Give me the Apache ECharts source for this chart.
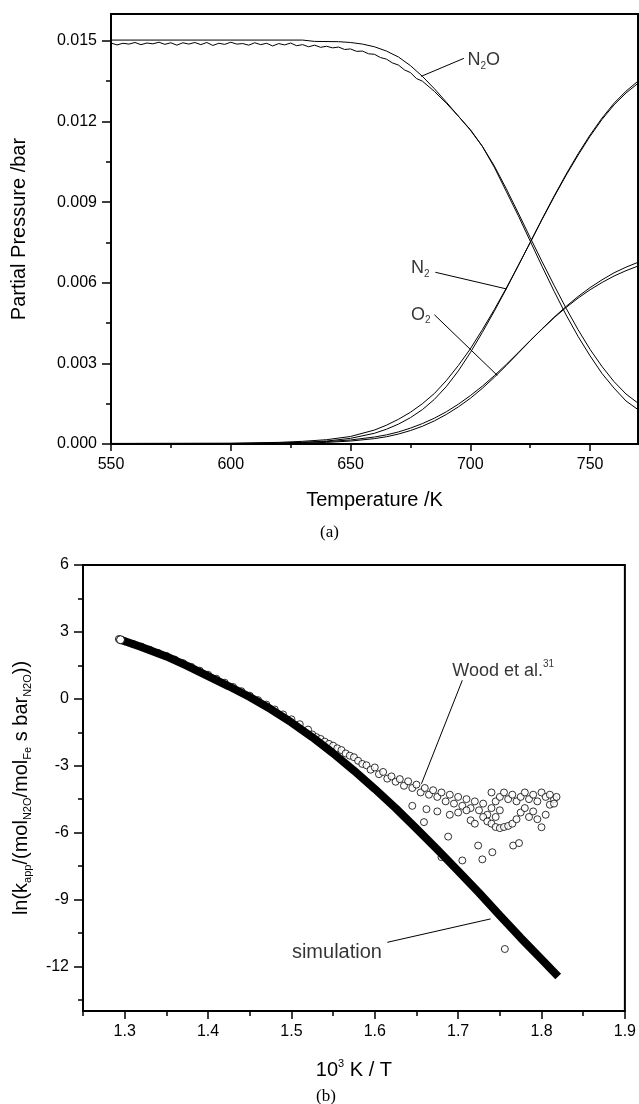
<!DOCTYPE html>
<html><head><meta charset="utf-8">
<script src="https://cdn.jsdelivr.net/npm/echarts@6/dist/echarts.min.js"></script>
<style>html,body{margin:0;padding:0;background:#fff}#c{width:639px;height:1104px}</style>
</head><body><div id="c"></div>
<script>
// ---------- Panel (a): partial pressures vs temperature ----------
const tempTicks = [550, 600, 650, 700, 750];
const tempMinorTicks = [575, 625, 675, 725];
const ppTicks = [0, 0.003, 0.006, 0.009, 0.012, 0.015];
const ppMinorTicks = [0.0015, 0.0045, 0.0075, 0.0105, 0.0135];

const n2oExp = [[550,0.01492],[552.5,0.01485],[555,0.01491],[557.5,0.01488],[560,0.01494],[562.5,0.01486],[565,0.01492],[567.5,0.01489],[570,0.01495],[572.5,0.01487],[575,0.01493],[577.5,0.01484],[580,0.01493],[582.5,0.01488],[585,0.01494],[587.5,0.01486],[590,0.01494],[592.5,0.01483],[595,0.01491],[597.5,0.01487],[600,0.01495],[602.5,0.01488],[605,0.01490],[607.5,0.01484],[610,0.01493],[612.5,0.01486],[615,0.01491],[617.5,0.01481],[620,0.01490],[622.5,0.01485],[625,0.01492],[627.5,0.01482],[630,0.01486],[632.5,0.01478],[635,0.01484],[637.5,0.01476],[640,0.01480],[642.5,0.01474],[645,0.01477],[647.5,0.01468],[650,0.01470],[652.5,0.01461],[655,0.01462],[657.5,0.01452],[660,0.01450],[662.5,0.01438],[665,0.01432],[667.5,0.01418],[670,0.01410],[672.5,0.01392],[675,0.01382],[677.5,0.01360],[680,0.01350],[685,0.01312],[690,0.01268],[695,0.01220],[700,0.01170],[705,0.01108],[710,0.01030],[715,0.00940],[720,0.00850],[725,0.00755],[730,0.00660],[735,0.00568],[740,0.00480],[745,0.00400],[750,0.00328],[755,0.00262],[760,0.00208],[765,0.00160],[770,0.00128]];
const n2oSim = [[550,0.01503],[600,0.01503],[630,0.01503],[635,0.01498],[645,0.01497],[650,0.01494],[655,0.01488],[660,0.01478],[665,0.01462],[670,0.01440],[675,0.01408],[680,0.01368],[685,0.01322],[690,0.01272],[695,0.01220],[700,0.01168],[705,0.01108],[710,0.01035],[715,0.00950],[720,0.00860],[725,0.00768],[730,0.00678],[735,0.00590],[740,0.00505],[745,0.00425],[750,0.00352],[755,0.00288],[760,0.00232],[765,0.00186],[770,0.00152]];
const n2Exp = [[550,0.00002],[600,0.00003],[620,0.00006],[630,0.00010],[640,0.00016],[650,0.00028],[660,0.00052],[665,0.00070],[670,0.00092],[675,0.00118],[680,0.00150],[685,0.00188],[690,0.00236],[695,0.00292],[700,0.00354],[705,0.00425],[710,0.00500],[715,0.00580],[720,0.00664],[725,0.00750],[730,0.00836],[735,0.00920],[740,0.01000],[745,0.01075],[750,0.01145],[755,0.01208],[760,0.01262],[765,0.01306],[770,0.01342]];
const n2Sim = [[550,0],[600,0.00001],[620,0.00003],[630,0.00006],[640,0.00011],[650,0.00021],[660,0.00040],[665,0.00055],[670,0.00074],[675,0.00098],[680,0.00128],[685,0.00166],[690,0.00214],[695,0.00272],[700,0.00340],[705,0.00415],[710,0.00494],[715,0.00577],[720,0.00663],[725,0.00750],[730,0.00838],[735,0.00923],[740,0.01004],[745,0.01080],[750,0.01150],[755,0.01213],[760,0.01268],[765,0.01313],[770,0.01350]];
const o2Exp = [[550,0.00002],[600,0.00002],[620,0.00004],[630,0.00006],[640,0.00009],[650,0.00015],[660,0.00026],[665,0.00034],[670,0.00045],[675,0.00059],[680,0.00076],[685,0.00096],[690,0.00120],[695,0.00148],[700,0.00180],[705,0.00215],[710,0.00254],[715,0.00296],[720,0.00340],[725,0.00385],[730,0.00428],[735,0.00470],[740,0.00508],[745,0.00543],[750,0.00574],[755,0.00601],[760,0.00625],[765,0.00645],[770,0.00662]];
const o2Sim = [[550,0],[600,0.00001],[620,0.00002],[630,0.00003],[640,0.00006],[650,0.00011],[660,0.00020],[665,0.00027],[670,0.00037],[675,0.00050],[680,0.00066],[685,0.00086],[690,0.00110],[695,0.00138],[700,0.00170],[705,0.00207],[710,0.00248],[715,0.00292],[720,0.00338],[725,0.00384],[730,0.00429],[735,0.00472],[740,0.00512],[745,0.00549],[750,0.00582],[755,0.00611],[760,0.00637],[765,0.00658],[770,0.00676]];

const n2oPointer = [[679.5,0.01368],[697.3,0.01435]];
const n2Pointer = [[685.4,0.00639],[715.1,0.00577]];
const o2Pointer = [[685.0,0.00481],[711.3,0.00255]];
const n2oLabelAt = [698.8, 0.01429];
const n2LabelAt = [675.2, 0.00653];
const o2LabelAt = [675.2, 0.00481];

// ---------- Panel (b): Arrhenius plot ----------
const invTTicks = [1.3, 1.4, 1.5, 1.6, 1.7, 1.8, 1.9];
const invTMinorTicks = [1.25, 1.35, 1.45, 1.55, 1.65, 1.75, 1.85];
const lnkTicks = [-12, -9, -6, -3, 0, 3, 6];
const lnkMinorTicks = [-13.5, -10.5, -7.5, -4.5, -1.5, 1.5, 4.5];

const simulation = [[1.295,2.65],[1.32,2.32],[1.35,1.90],[1.375,1.48],[1.40,1.02],[1.425,0.56],[1.45,0.08],[1.475,-0.46],[1.50,-1.06],[1.525,-1.72],[1.55,-2.44],[1.575,-3.22],[1.60,-4.04],[1.625,-4.90],[1.65,-5.82],[1.675,-6.76],[1.70,-7.72],[1.725,-8.70],[1.75,-9.72],[1.775,-10.72],[1.80,-11.68],[1.82,-12.45]];
const wood = [[1.293,2.68],[1.30,2.58],[1.31,2.46],[1.32,2.34],[1.33,2.20],[1.34,2.06],[1.35,1.92],[1.36,1.76],[1.37,1.60],[1.38,1.43],[1.39,1.26],[1.40,1.08],[1.41,0.90],[1.42,0.72],[1.43,0.53],[1.44,0.34],[1.45,0.14],[1.46,-0.06],[1.47,-0.26],[1.48,-0.48],[1.49,-0.70],[1.50,-0.92],[1.51,-1.14],[1.52,-1.38],[1.525,-1.60],[1.53,-1.72],[1.535,-1.80],[1.54,-1.92],[1.545,-2.02],[1.55,-2.10],[1.555,-2.22],[1.56,-2.30],[1.565,-2.45],[1.57,-2.55],[1.575,-2.62],[1.58,-2.78],[1.585,-2.92],[1.59,-2.98],[1.595,-3.18],[1.60,-3.08],[1.605,-3.38],[1.61,-3.28],[1.615,-3.58],[1.62,-3.48],[1.625,-3.72],[1.63,-3.60],[1.635,-3.90],[1.64,-3.70],[1.645,-4.00],[1.65,-3.85],[1.655,-4.20],[1.66,-4.00],[1.665,-4.30],[1.67,-4.10],[1.675,-4.40],[1.68,-4.20],[1.685,-4.60],[1.69,-4.30],[1.695,-4.70],[1.70,-4.40],[1.705,-4.80],[1.71,-4.50],[1.715,-4.90],[1.72,-4.60],[1.725,-5.00],[1.73,-4.70],[1.735,-5.20],[1.74,-4.90],[1.745,-5.30],[1.75,-5.00],[1.645,-4.80],[1.659,-5.53],[1.662,-4.95],[1.675,-5.05],[1.68,-7.10],[1.688,-6.18],[1.69,-5.20],[1.70,-5.10],[1.705,-7.25],[1.71,-5.00],[1.715,-5.45],[1.72,-5.60],[1.724,-6.58],[1.729,-7.20],[1.73,-5.30],[1.735,-5.50],[1.74,-5.60],[1.741,-6.88],[1.745,-5.75],[1.75,-5.80],[1.755,-5.75],[1.756,-11.22],[1.76,-5.70],[1.765,-5.60],[1.766,-6.58],[1.77,-5.40],[1.773,-6.47],[1.775,-5.10],[1.78,-4.90],[1.785,-5.30],[1.79,-5.05],[1.795,-5.40],[1.80,-5.76],[1.805,-5.20],[1.81,-4.75],[1.815,-4.50],[1.74,-4.20],[1.745,-4.60],[1.75,-4.40],[1.755,-4.20],[1.76,-4.50],[1.765,-4.30],[1.77,-4.60],[1.775,-4.40],[1.78,-4.20],[1.785,-4.50],[1.79,-4.30],[1.795,-4.60],[1.80,-4.20],[1.805,-4.40],[1.81,-4.30],[1.815,-4.70],[1.818,-4.40]];

const woodPointer = [[1.705,0.83],[1.656,-3.81]];
const simPointer = [[1.615,-10.92],[1.739,-9.87]];
const woodLabelAt = [1.693, 1.26];
const simLabelAt = [1.5006, -11.37];

// ---------- chart ----------
const FONT = '"Liberation Sans", Arial, sans-serif';
function richFor(size) {
  return {
    m: {fontSize: size, fontFamily: FONT, color: '#000', lineHeight: size + 4, verticalAlign: 'middle'},
    s: {fontSize: 10, fontFamily: FONT, color: '#000', lineHeight: 10, verticalAlign: 'bottom'},
    u: {fontSize: 10, fontFamily: FONT, color: '#000', lineHeight: 10, verticalAlign: 'top'}
  };
}
const nameRich = {
  m: {fontSize: 20, fontFamily: FONT, color: '#000', lineHeight: 24, verticalAlign: 'middle'},
  s: {fontSize: 11, fontFamily: FONT, color: '#000', lineHeight: 11, verticalAlign: 'bottom'},
  u: {fontSize: 11, fontFamily: FONT, color: '#000', lineHeight: 11, verticalAlign: 'top'}
};
function axisPair(pos, gridIndex, min, max, major, minor, fmt, majorLen, minorLen, labelMargin, name, nameGap) {
  const main = {
    type: 'value', gridIndex: gridIndex, min: min, max: max, position: pos,
    axisLine: {show: true, onZero: false, lineStyle: {color: '#000', width: 2}},
    axisTick: {show: true, customValues: major, length: majorLen, lineStyle: {color: '#000', width: 1.5}},
    axisLabel: {show: true, customValues: major, formatter: fmt, margin: labelMargin, color: '#000', fontSize: 16, fontFamily: FONT},
    splitLine: {show: false},
    name: name, nameLocation: 'middle', nameGap: nameGap,
    nameTextStyle: {color: '#000', fontSize: 20, fontFamily: FONT, rich: nameRich}
  };
  const sub = {
    type: 'value', gridIndex: gridIndex, min: min, max: max, position: pos, offset: 0,
    axisLine: {show: false, onZero: false},
    axisTick: {show: true, customValues: minor, length: minorLen, lineStyle: {color: '#000', width: 1.5}},
    axisLabel: {show: false},
    splitLine: {show: false}
  };
  return [main, sub];
}

const xA = axisPair('bottom', 0, 550, 770, tempTicks, tempMinorTicks, v => String(v), 7, 4, 13, 'Temperature /K', 46);
const yA = axisPair('left', 0, 0, 0.016, ppTicks, ppMinorTicks, v => v.toFixed(3), 9, 5, 14, 'Partial Pressure /bar', 82);
const xB = axisPair('bottom', 1, 1.25, 1.9, invTTicks, invTMinorTicks, v => v.toFixed(1), 8, 5, 13, '{m|10}{u|3}{m| K / T}', 47);
const yB = axisPair('left', 1, -14, 6, lnkTicks, lnkMinorTicks, v => String(v), 9, 5, 14, '{m|ln(k}{s|app}{m|/(mol}{s|N2O}{m|/mol}{s|Fe}{m| s bar}{s|N2O}{m|))}', 50);

function thin(data, a) {
  return {type: 'line', xAxisIndex: a, yAxisIndex: a, data: data, symbol: 'none', silent: true,
    lineStyle: {color: '#000', width: 1}, z: 3, animation: false};
}
function textAt(pt, a, text, size) {
  return {type: 'scatter', xAxisIndex: a, yAxisIndex: a, data: [pt], symbolSize: 0, silent: true,
    label: {show: true, position: 'right', distance: 0, formatter: text, rich: richFor(size), color: '#000', fontSize: size, fontFamily: FONT},
    z: 5, animation: false};
}

const simData = simulation.map((p, i) => i === 0
  ? {value: p, symbol: 'circle', symbolSize: 8, itemStyle: {color: '#fff', borderColor: '#000', borderWidth: 1}}
  : {value: p});

const option = {
  animation: false,
  backgroundColor: '#fff',
  grid: [
    {left: 111, top: 14, width: 527, height: 430, show: true, borderColor: '#000', borderWidth: 2, backgroundColor: 'transparent'},
    {left: 83, top: 565, width: 545, height: 446, show: true, borderColor: '#000', borderWidth: 2, backgroundColor: 'transparent'}
  ],
  xAxis: [xA[0], xA[1], xB[0], xB[1]],
  yAxis: [yA[0], yA[1], yB[0], yB[1]],
  series: [
    thin(n2oExp, 0), thin(n2oSim, 0), thin(n2Exp, 0), thin(n2Sim, 0), thin(o2Exp, 0), thin(o2Sim, 0),
    thin(n2oPointer, 0), thin(n2Pointer, 0), thin(o2Pointer, 0),
    textAt(n2oLabelAt, 0, '{m|N}{s|2}{m|O}', 18),
    textAt(n2LabelAt, 0, '{m|N}{s|2}', 18),
    textAt(o2LabelAt, 0, '{m|O}{s|2}', 18),
    {type: 'scatter', xAxisIndex: 2, yAxisIndex: 2, data: wood, symbol: 'circle', symbolSize: 7,
      itemStyle: {color: '#fff', borderColor: '#000', borderWidth: 1}, z: 2, silent: true, animation: false},
    {type: 'line', xAxisIndex: 2, yAxisIndex: 2, data: simData, symbol: 'none', showSymbol: true, silent: true,
      lineStyle: {color: '#000', width: 8, cap: 'butt'}, z: 3, animation: false},
    thin(woodPointer, 2), thin(simPointer, 2),
    textAt(woodLabelAt, 2, '{m|Wood et al.}{u|31}', 18),
    textAt(simLabelAt, 2, '{m|simulation}', 20)
  ],
  graphic: [
    {type: 'text', left: 320, top: 524, style: {text: '(a)', font: '17px "Liberation Serif", "Times New Roman", serif', fill: '#000'}},
    {type: 'text', left: 316, top: 1088, style: {text: '(b)', font: '17px "Liberation Serif", "Times New Roman", serif', fill: '#000'}}
  ]
};
const chart = echarts.init(document.getElementById('c'), null, {renderer: 'canvas'});
chart.setOption(option);
</script>
</body></html>
